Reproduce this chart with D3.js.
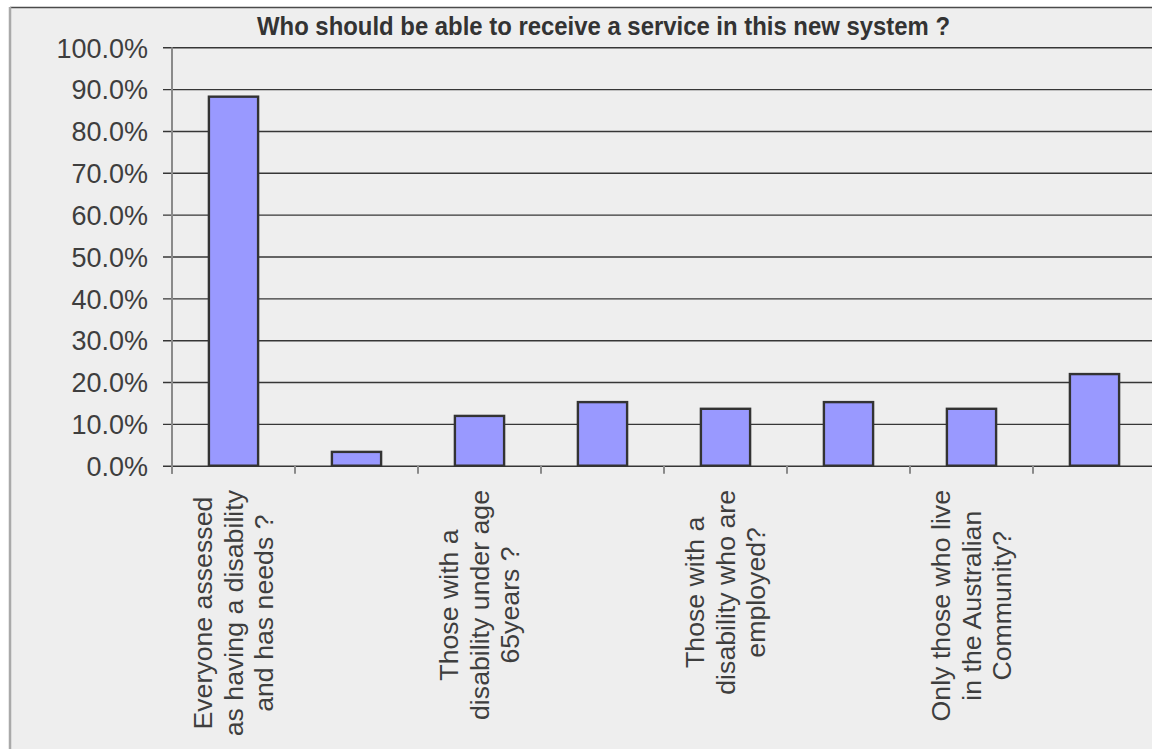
<!DOCTYPE html>
<html>
<head>
<meta charset="utf-8">
<script src="https://cdn.jsdelivr.net/npm/d3@7/dist/d3.min.js"></script>
<style>
  html, body { margin: 0; padding: 0; background: #ffffff; }
  svg { display: block; }
</style>
</head>
<body>
<script>
// Survey result: share of respondents choosing each group
const title = "Who should be able to receive a service in this new system ?";
const categoryIndex = [0, 1, 2, 3, 4, 5, 6, 7];
const percentValues = [88.2, 3.3, 11.9, 15.2, 13.6, 15.2, 13.6, 21.9];
// Axis shows only every other category name (multi-line)
const categoryLabels = [
  ["Everyone assessed", "as having a disability", "and has needs ?"],
  [],
  ["Those with a", "disability under age", "65years ?"],
  [],
  ["Those with a", "disability who are", "employed?"],
  [],
  ["Only those who live", "in the Australian", "Community?"],
  []
];
const yTicks = [0, 10, 20, 30, 40, 50, 60, 70, 80, 90, 100];

const W = 1152, H = 749;
const svg = d3.select("body").append("svg").attr("width", W).attr("height", H);

// chart area frame
svg.append("rect").attr("x", 10).attr("y", 7).attr("width", W).attr("height", H)
  .attr("fill", "#eeeeee");
svg.append("line").attr("x1", 10).attr("x2", W).attr("y1", 7.5).attr("y2", 7.5)
  .attr("stroke", "#4a4a4a").attr("stroke-width", 1.5);
svg.append("line").attr("x1", 10).attr("x2", 10).attr("y1", 7).attr("y2", H)
  .attr("stroke", "#a9a9a9").attr("stroke-width", 2.5);

const plot = { left: 172, right: 1156, top: 47.3, bottom: 465.7 };

const x = d3.scaleBand().domain(categoryIndex).range([plot.left, plot.right])
  .paddingInner(0.6).paddingOuter(0.3);
const xCat = d3.scaleBand().domain(categoryIndex).range([plot.left, plot.right]);
const y = d3.scaleLinear().domain([0, 100]).range([plot.bottom, plot.top]);

// gridlines with short tick extensions to the left
const yAxis = d3.axisLeft(y).tickValues(yTicks).tickSize(-(plot.right - plot.left))
  .tickFormat(d => d3.format(".1f")(d) + "%").tickPadding(15);
const gy = svg.append("g").attr("transform", `translate(${plot.left},0)`).call(yAxis);
gy.select(".domain").remove();
gy.selectAll(".tick line")
  .attr("x1", -9)
  .attr("stroke", "#363636").attr("stroke-width", 1.4);
gy.selectAll(".tick text")
  .attr("x", -24)
  .attr("dy", "0.36em")
  .attr("fill", "#3e3e3e")
  .style("font-family", "'Liberation Sans', Arial, sans-serif")
  .style("font-size", "27px");

// vertical axis line
svg.append("line").attr("x1", plot.left).attr("x2", plot.left)
  .attr("y1", plot.top).attr("y2", plot.bottom + 8)
  .attr("stroke", "#8a8a8a").attr("stroke-width", 2);

// category boundary ticks
svg.append("g").selectAll("line").data(categoryIndex.concat([8])).join("line")
  .attr("x1", d => d < 8 ? xCat(d) : xCat(7) + xCat.step())
  .attr("x2", d => d < 8 ? xCat(d) : xCat(7) + xCat.step())
  .attr("y1", plot.bottom).attr("y2", plot.bottom + 8)
  .attr("stroke", "#8a8a8a").attr("stroke-width", 2);

// bars
svg.append("g").selectAll("rect").data(percentValues).join("rect")
  .attr("x", (d, i) => x(i))
  .attr("width", x.bandwidth())
  .attr("y", d => y(d))
  .attr("height", d => y(0) - y(d))
  .attr("fill", "#9999ff")
  .attr("stroke", "#333333").attr("stroke-width", 2.4);

// title
svg.append("text")
  .attr("x", 257).attr("y", 34.5)
  .attr("textLength", 693).attr("lengthAdjust", "spacingAndGlyphs")
  .attr("fill", "#333333")
  .style("font-family", "'Liberation Sans', Arial, sans-serif")
  .style("font-weight", "bold")
  .style("font-size", "26px")
  .text(title);

// rotated multi-line category labels, lines centred within the block
const fontSize = 26.7, lineH = 30.5, labelTop = 490;
categoryLabels.forEach((lines, i) => {
  if (!lines.length) return;
  const cx = xCat(i) + xCat.bandwidth() / 2;
  const g = svg.append("g").attr("transform", `translate(${cx},${labelTop}) rotate(-90)`);
  const texts = g.selectAll("text").data(lines).join("text")
    .attr("text-anchor", "middle")
    .attr("fill", "#3e3e3e")
    .style("font-family", "'Liberation Sans', Arial, sans-serif")
    .style("font-size", fontSize + "px")
    .attr("y", (d, k) => (k - (lines.length - 1) / 2) * lineH + fontSize * 0.35)
    .text(d => d);
  let maxLen = 0;
  texts.each(function () { maxLen = Math.max(maxLen, this.getComputedTextLength()); });
  texts.attr("x", -maxLen / 2);
});
</script>
</body>
</html>
